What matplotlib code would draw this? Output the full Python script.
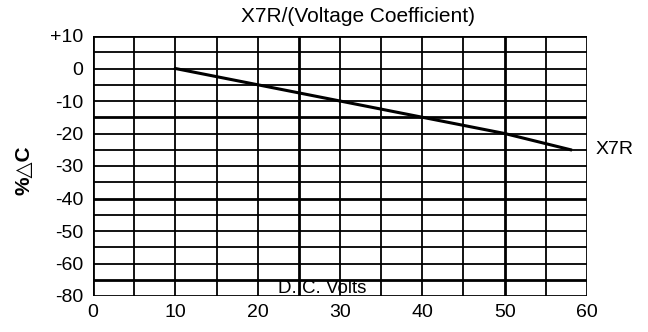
import matplotlib
matplotlib.use("Agg")
import matplotlib.pyplot as plt
import numpy as np

plt.rcParams["font.family"] = ["Liberation Sans", "DejaVu Sans"]

# X7R voltage coefficient curve
volts = [10, 20, 30, 40, 50, 58]
delta_c = [0, -5, -10, -15, -20, -25]

x_ticks = [0, 10, 20, 30, 40, 50, 60]
y_ticks = [10, 0, -10, -20, -30, -40, -50, -60, -70]
y_labels = ["+10", "0", "-10", "-20", "-30", "-40", "-50", "-60", "-80"]

fig = plt.figure(figsize=(6.48, 3.32), dpi=100)
ax = fig.add_axes([93 / 648, 36 / 332, 494 / 648, 260 / 332])

ax.set_xlim(0, 60)
ax.set_ylim(-70, 10)

# grid, every 5 units, a few heavier lines
for xv in np.arange(0, 61, 5):
    lw = 2.0 if xv in (0, 25, 50, 60) else 1.3
    ax.axvline(xv, color="black", lw=lw, zorder=1)
for yv in np.arange(-70, 11, 5):
    lw = 2.0 if yv in (-15, -40, -65, 10, -70) else 1.3
    ax.axhline(yv, color="black", lw=lw, zorder=1)

ax.plot(volts, delta_c, color="black", lw=2.2, zorder=3)

for s in ax.spines.values():
    s.set_visible(False)

ax.set_xticks(x_ticks)
ax.set_yticks(y_ticks)
ax.set_yticklabels(y_labels)
ax.tick_params(length=0, labelsize=14)
ax.tick_params(axis="y", pad=7)
ax.tick_params(axis="x", pad=6)

ax.text(27.8, -70.3, "D. C. Volts", ha="center", va="bottom", fontsize=13.5, zorder=4)
ax.text(61.0, -25, "X7R", ha="left", va="center", fontsize=14, clip_on=False)

fig.text(358 / 648, 1 - 16 / 332, "X7R/(Voltage Coefficient)", ha="center", va="center", fontsize=15)
fig.text(24 / 648, 1 - 170 / 332, "%△C", rotation=90, ha="center", va="center",
         fontsize=15, fontweight="bold")

fig.savefig("out.png", dpi=100)
